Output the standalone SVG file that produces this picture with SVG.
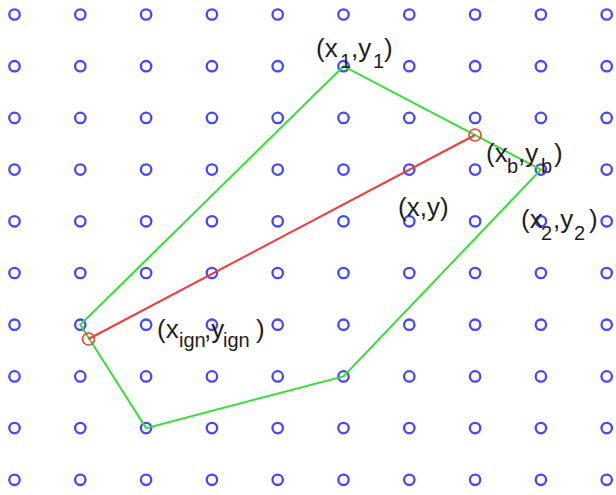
<svg xmlns="http://www.w3.org/2000/svg" xmlns:xlink="http://www.w3.org/1999/xlink" width="616" height="495" viewBox="0 0 616 495">
<style>
.pt{fill:none;stroke:#4646ff;stroke-width:2.3}
.poly{fill:none;stroke:#33e033;stroke-width:2;stroke-linejoin:miter}
.ray{stroke:#f03c3c;stroke-width:2}
.rp{fill:none;stroke:#f03c3c;stroke-width:1.6}
.lbl{font-family:"Liberation Sans",Arial,sans-serif;font-size:26px;fill:#1e1e1e}
.sub{font-size:20px}
</style>
<defs>
<circle id="c" r="5.2" class="pt"/>
</defs>
<rect width="616" height="495" fill="#fff"/>
<g id="grid">
<g id="row0" transform="translate(0,14.5)"><use xlink:href="#c" x="14.5"/><use xlink:href="#c" x="80.3"/><use xlink:href="#c" x="146.1"/><use xlink:href="#c" x="211.9"/><use xlink:href="#c" x="277.7"/><use xlink:href="#c" x="343.5"/><use xlink:href="#c" x="409.3"/><use xlink:href="#c" x="475.1"/><use xlink:href="#c" x="540.9"/><use xlink:href="#c" x="606.7"/></g>
<g id="row1" transform="translate(0,66.2)"><use xlink:href="#c" x="14.5"/><use xlink:href="#c" x="80.3"/><use xlink:href="#c" x="146.1"/><use xlink:href="#c" x="211.9"/><use xlink:href="#c" x="277.7"/><use xlink:href="#c" x="343.5"/><use xlink:href="#c" x="409.3"/><use xlink:href="#c" x="475.1"/><use xlink:href="#c" x="540.9"/><use xlink:href="#c" x="606.7"/></g>
<g id="row2" transform="translate(0,117.9)"><use xlink:href="#c" x="14.5"/><use xlink:href="#c" x="80.3"/><use xlink:href="#c" x="146.1"/><use xlink:href="#c" x="211.9"/><use xlink:href="#c" x="277.7"/><use xlink:href="#c" x="343.5"/><use xlink:href="#c" x="409.3"/><use xlink:href="#c" x="475.1"/><use xlink:href="#c" x="540.9"/><use xlink:href="#c" x="606.7"/></g>
<g id="row3" transform="translate(0,169.6)"><use xlink:href="#c" x="14.5"/><use xlink:href="#c" x="80.3"/><use xlink:href="#c" x="146.1"/><use xlink:href="#c" x="211.9"/><use xlink:href="#c" x="277.7"/><use xlink:href="#c" x="343.5"/><use xlink:href="#c" x="409.3"/><use xlink:href="#c" x="475.1"/><use xlink:href="#c" x="540.9"/><use xlink:href="#c" x="606.7"/></g>
<g id="row4" transform="translate(0,221.3)"><use xlink:href="#c" x="14.5"/><use xlink:href="#c" x="80.3"/><use xlink:href="#c" x="146.1"/><use xlink:href="#c" x="211.9"/><use xlink:href="#c" x="277.7"/><use xlink:href="#c" x="343.5"/><use xlink:href="#c" x="409.3"/><use xlink:href="#c" x="475.1"/><use xlink:href="#c" x="540.9"/><use xlink:href="#c" x="606.7"/></g>
<g id="row5" transform="translate(0,273)"><use xlink:href="#c" x="14.5"/><use xlink:href="#c" x="80.3"/><use xlink:href="#c" x="146.1"/><use xlink:href="#c" x="211.9"/><use xlink:href="#c" x="277.7"/><use xlink:href="#c" x="343.5"/><use xlink:href="#c" x="409.3"/><use xlink:href="#c" x="475.1"/><use xlink:href="#c" x="540.9"/><use xlink:href="#c" x="606.7"/></g>
<g id="row6" transform="translate(0,324.7)"><use xlink:href="#c" x="14.5"/><use xlink:href="#c" x="80.3"/><use xlink:href="#c" x="146.1"/><use xlink:href="#c" x="211.9"/><use xlink:href="#c" x="277.7"/><use xlink:href="#c" x="343.5"/><use xlink:href="#c" x="409.3"/><use xlink:href="#c" x="475.1"/><use xlink:href="#c" x="540.9"/><use xlink:href="#c" x="606.7"/></g>
<g id="row7" transform="translate(0,376.4)"><use xlink:href="#c" x="14.5"/><use xlink:href="#c" x="80.3"/><use xlink:href="#c" x="146.1"/><use xlink:href="#c" x="211.9"/><use xlink:href="#c" x="277.7"/><use xlink:href="#c" x="343.5"/><use xlink:href="#c" x="409.3"/><use xlink:href="#c" x="475.1"/><use xlink:href="#c" x="540.9"/><use xlink:href="#c" x="606.7"/></g>
<g id="row8" transform="translate(0,428.1)"><use xlink:href="#c" x="14.5"/><use xlink:href="#c" x="80.3"/><use xlink:href="#c" x="146.1"/><use xlink:href="#c" x="211.9"/><use xlink:href="#c" x="277.7"/><use xlink:href="#c" x="343.5"/><use xlink:href="#c" x="409.3"/><use xlink:href="#c" x="475.1"/><use xlink:href="#c" x="540.9"/><use xlink:href="#c" x="606.7"/></g>
<g id="row9" transform="translate(0,479.8)"><use xlink:href="#c" x="14.5"/><use xlink:href="#c" x="80.3"/><use xlink:href="#c" x="146.1"/><use xlink:href="#c" x="211.9"/><use xlink:href="#c" x="277.7"/><use xlink:href="#c" x="343.5"/><use xlink:href="#c" x="409.3"/><use xlink:href="#c" x="475.1"/><use xlink:href="#c" x="540.9"/><use xlink:href="#c" x="606.7"/></g>
</g>
<g id="connectors">
<polygon class="poly" points="80.3,324.7 343.5,66.2 540.9,169.6 343.5,376.4 146.1,428.1"/>
<line class="ray" x1="88.5" y1="339" x2="475" y2="135"/>
</g>
<g id="p-ign"><circle class="rp" cx="88.5" cy="339" r="6"/></g>
<g id="p-b"><circle class="rp" cx="475" cy="135" r="6"/></g>
<g id="labels">
<text id="l-1" class="lbl"><tspan x="316" y="57">(x</tspan><tspan class="sub" x="340" y="68">1</tspan><tspan x="351" y="57">,y</tspan><tspan class="sub" x="373" y="68">1</tspan><tspan x="384" y="57">)</tspan></text>
<text id="l-b" class="lbl"><tspan x="486" y="162">(x</tspan><tspan class="sub" x="507" y="173">b</tspan><tspan x="518" y="162">,y</tspan><tspan class="sub" x="541" y="173">b</tspan><tspan x="554" y="162">)</tspan></text>
<text id="l-xy" class="lbl"><tspan x="398" y="216">(x,y)</tspan></text>
<text id="l-2" class="lbl"><tspan x="521" y="228">(x</tspan><tspan class="sub" x="541" y="240">2</tspan><tspan x="553" y="228">,y</tspan><tspan class="sub" x="574" y="240">2</tspan><tspan x="589" y="228">)</tspan></text>
<text id="l-ign" class="lbl"><tspan x="157" y="338">(x</tspan><tspan class="sub" x="179" y="347">ign</tspan><tspan x="204" y="338">,y</tspan><tspan class="sub" x="223" y="347">ign</tspan><tspan x="256" y="338">)</tspan></text>
</g>
</svg>
